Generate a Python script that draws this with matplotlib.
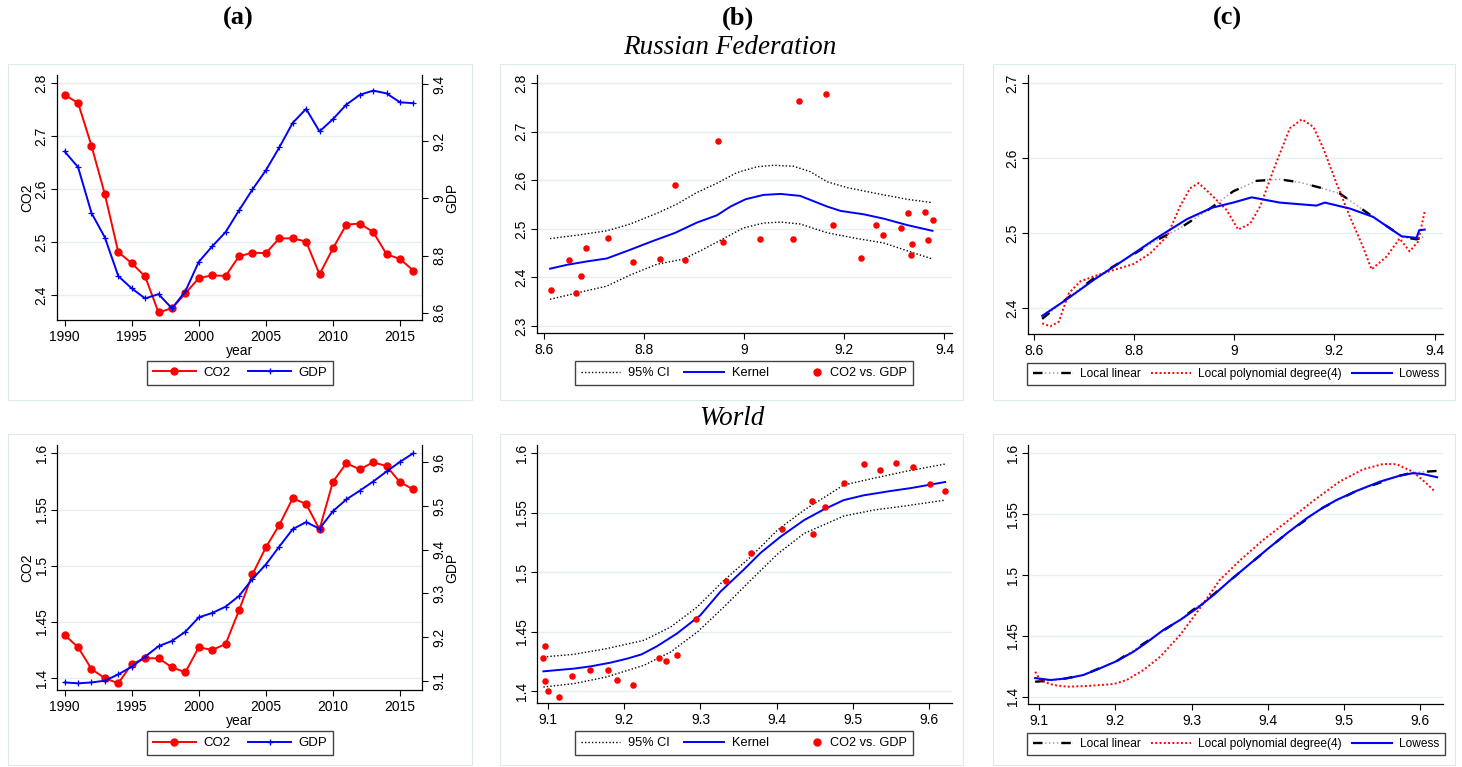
import matplotlib

matplotlib.use("Agg")
import matplotlib.pyplot as plt
from matplotlib.legend_handler import HandlerLine2D
from matplotlib.lines import Line2D
from matplotlib.patches import Rectangle
from matplotlib.ticker import FormatStrFormatter, MultipleLocator

# ---- data ----
years = list(range(1990, 2017))

rus_co2 = [2.778, 2.763, 2.682, 2.590, 2.481, 2.460, 2.435, 2.367, 2.375, 2.403,
           2.432, 2.437, 2.436, 2.473, 2.480, 2.479, 2.507, 2.507, 2.501, 2.439,
           2.488, 2.533, 2.535, 2.519, 2.477, 2.468, 2.446]
rus_gdp = [9.164, 9.109, 8.949, 8.863, 8.728, 8.685, 8.650, 8.665, 8.615, 8.675,
           8.778, 8.832, 8.882, 8.958, 9.031, 9.098, 9.178, 9.264, 9.313, 9.234,
           9.277, 9.328, 9.362, 9.377, 9.367, 9.336, 9.333]

wld_co2 = [1.4385, 1.4276, 1.4083, 1.400, 1.3956, 1.4127, 1.4178, 1.4178, 1.4098,
           1.4053, 1.4276, 1.4252, 1.4305, 1.4604, 1.4924, 1.5164, 1.5363, 1.560,
           1.555, 1.5324, 1.5748, 1.5911, 1.5858, 1.592, 1.5887, 1.5742, 1.568]
wld_gdp = [9.096, 9.094, 9.096, 9.100, 9.1145, 9.132, 9.155, 9.179, 9.191, 9.212,
           9.245, 9.255, 9.2695, 9.294, 9.333, 9.366, 9.407, 9.447, 9.463, 9.448,
           9.488, 9.515, 9.535, 9.556, 9.579, 9.601, 9.621]

# kernel fit + 95% CI, Russia
rus_kern_x = [8.613, 8.647, 8.687, 8.726, 8.773, 8.813, 8.863, 8.906, 8.946, 8.973,
              9.003, 9.039, 9.073, 9.112, 9.139, 9.166, 9.193, 9.239, 9.279, 9.325, 9.376]
rus_kern_y = [2.418, 2.426, 2.433, 2.439, 2.457, 2.473, 2.492, 2.513, 2.528, 2.546,
              2.561, 2.570, 2.572, 2.568, 2.557, 2.546, 2.537, 2.530, 2.521, 2.508, 2.496]
rus_ciu_x = [8.613, 8.667, 8.726, 8.773, 8.826, 8.866, 8.906, 8.946, 8.986, 9.026,
             9.059, 9.099, 9.132, 9.166, 9.206, 9.259, 9.325, 9.376]
rus_ciu_y = [2.480, 2.487, 2.496, 2.510, 2.532, 2.551, 2.575, 2.594, 2.616, 2.628,
             2.631, 2.629, 2.618, 2.597, 2.585, 2.574, 2.561, 2.554]
rus_cil_x = [8.613, 8.667, 8.726, 8.773, 8.826, 8.880, 8.919, 8.959, 8.999, 9.039,
             9.073, 9.112, 9.166, 9.226, 9.279, 9.325, 9.376]
rus_cil_y = [2.355, 2.368, 2.382, 2.405, 2.427, 2.438, 2.458, 2.480, 2.502, 2.512,
             2.514, 2.510, 2.492, 2.480, 2.471, 2.455, 2.438]

# kernel fit + 95% CI, World
wld_kern_x = [9.094, 9.134, 9.156, 9.182, 9.204, 9.223, 9.243, 9.269, 9.300, 9.326,
              9.357, 9.379, 9.405, 9.436, 9.462, 9.488, 9.514, 9.549, 9.576, 9.621]
wld_kern_y = [1.4168, 1.4191, 1.4210, 1.4241, 1.4275, 1.4311, 1.4379, 1.4485, 1.4640,
              1.4836, 1.5024, 1.5164, 1.5299, 1.5439, 1.5529, 1.5607, 1.5647, 1.5683,
              1.5708, 1.5759]
wld_ciu_x = [9.094, 9.134, 9.177, 9.226, 9.261, 9.296, 9.331, 9.366, 9.401, 9.436,
             9.467, 9.488, 9.527, 9.571, 9.621]
wld_ciu_y = [1.4289, 1.4311, 1.4359, 1.4429, 1.4541, 1.4710, 1.4934, 1.5130, 1.5355,
             1.5523, 1.5649, 1.5734, 1.5790, 1.5851, 1.5910]
wld_cil_x = [9.094, 9.134, 9.177, 9.226, 9.261, 9.296, 9.331, 9.366, 9.401, 9.436,
             9.488, 9.527, 9.571, 9.621]
wld_cil_y = [1.4036, 1.4065, 1.4121, 1.4219, 1.4331, 1.4499, 1.4710, 1.4934, 1.5153,
             1.5327, 1.5473, 1.5523, 1.5560, 1.5607]

# nonparametric fits, Russia
rus_ll_x = [8.617, 8.666, 8.720, 8.779, 8.846, 8.892, 8.952, 8.998, 9.045, 9.091,
            9.131, 9.171, 9.211, 9.277, 9.337, 9.364, 9.380]
rus_ll_y = [2.386, 2.413, 2.440, 2.464, 2.491, 2.507, 2.533, 2.556, 2.570, 2.572,
            2.568, 2.561, 2.553, 2.522, 2.495, 2.492, 2.496]
rus_lp_x = [8.617, 8.633, 8.650, 8.670, 8.693, 8.726, 8.759, 8.799, 8.832, 8.866,
            8.892, 8.912, 8.929, 8.952, 8.985, 9.008, 9.032, 9.052, 9.078, 9.111,
            9.135, 9.158, 9.178, 9.204, 9.231, 9.257, 9.274, 9.304, 9.330, 9.350,
            9.367, 9.380]
rus_lp_y = [2.380, 2.376, 2.382, 2.420, 2.436, 2.444, 2.451, 2.459, 2.473, 2.496,
            2.536, 2.560, 2.567, 2.553, 2.531, 2.505, 2.513, 2.536, 2.584, 2.640,
            2.652, 2.642, 2.613, 2.567, 2.522, 2.482, 2.452, 2.469, 2.493, 2.476,
            2.489, 2.529]
rus_lw_x = [8.617, 8.666, 8.720, 8.779, 8.846, 8.906, 8.955, 8.998, 9.035, 9.091,
            9.164, 9.181, 9.231, 9.277, 9.334, 9.364, 9.369, 9.380]
rus_lw_y = [2.390, 2.412, 2.438, 2.464, 2.494, 2.519, 2.534, 2.541, 2.548, 2.541,
            2.537, 2.541, 2.533, 2.522, 2.496, 2.494, 2.504, 2.505]

# nonparametric fits, World
wld_ll_x = [9.095, 9.124, 9.158, 9.202, 9.241, 9.285, 9.329, 9.372, 9.425, 9.473,
            9.516, 9.573, 9.590, 9.622]
wld_ll_y = [1.4123, 1.4137, 1.4178, 1.4293, 1.4452, 1.4633, 1.4841, 1.5068, 1.5342,
            1.5556, 1.5690, 1.5816, 1.5841, 1.5855]
wld_lp_x = [9.095, 9.102, 9.119, 9.137, 9.163, 9.198, 9.215, 9.237, 9.259, 9.285,
            9.311, 9.337, 9.364, 9.394, 9.425, 9.460, 9.494, 9.525, 9.551, 9.569,
            9.590, 9.608, 9.619]
wld_lp_y = [1.4205, 1.4132, 1.4096, 1.4082, 1.4088, 1.4104, 1.4137, 1.4219, 1.4329,
            1.4507, 1.4726, 1.4959, 1.5123, 1.5288, 1.5438, 1.5611, 1.5767, 1.5868,
            1.5912, 1.5910, 1.5849, 1.5753, 1.5685]
wld_lw_x = [9.095, 9.115, 9.137, 9.158, 9.180, 9.202, 9.224, 9.241, 9.263, 9.285,
            9.307, 9.329, 9.350, 9.372, 9.398, 9.425, 9.451, 9.473, 9.490, 9.516,
            9.547, 9.573, 9.590, 9.603, 9.622]
wld_lw_y = [1.4153, 1.4137, 1.4151, 1.4178, 1.4233, 1.4293, 1.4370, 1.4444, 1.4548,
            1.4630, 1.4726, 1.4836, 1.4953, 1.5068, 1.5205, 1.5342, 1.5466, 1.5556,
            1.5616, 1.5690, 1.5767, 1.5816, 1.5836, 1.5830, 1.5803]

W, H = 1462, 767
GRID = "#e6eef0"
FRAME = "#dfe8ec"
TICK_FS = 10
SERIF = ["Liberation Serif", "DejaVu Serif"]

plt.rcParams["font.family"] = ["Liberation Sans", "DejaVu Sans"]

fig = plt.figure(figsize=(W / 100, H / 100), dpi=100)


class _RightDot(HandlerLine2D):
    # one marker at the right end of the key, the way Stata draws it
    def create_artists(self, legend, orig_handle, xdescent, ydescent,
                       width, height, fontsize, trans):
        art = Line2D([width - xdescent - 4], [(height - ydescent) / 2])
        self.update_prop(art, orig_handle, legend)
        art.set_transform(trans)
        return [art]


def _rect(l, r, t, b):
    return [l / W, 1 - b / H, (r - l) / W, (b - t) / H]


def _style_axis(ax, *, right=False):
    for s in ("top", "right", "left", "bottom"):
        ax.spines[s].set_visible(False)
    side = "right" if right else "left"
    ax.spines[side].set_visible(True)
    ax.spines[side].set_linewidth(0.9)
    ax.tick_params(direction="out", length=4, width=0.8, labelsize=TICK_FS)
    if not right:
        ax.spines["bottom"].set_visible(True)
        ax.spines["bottom"].set_linewidth(0.9)
        ax.grid(True, axis="y", color=GRID, lw=1.0)
        ax.set_axisbelow(True)
        ax.tick_params(axis="y", pad=2)
    ax.yaxis.set_major_formatter(FormatStrFormatter("%g"))
    for lab in ax.get_yticklabels():
        lab.set_rotation(90)
        lab.set_va("center")


def _legend(handles, labels, cx, cy, fs, hl, cs, tp, hmap=None):
    fig.legend(handles, labels, loc="center", bbox_to_anchor=(cx / W, 1 - cy / H),
               bbox_transform=fig.transFigure, ncol=len(labels), fontsize=fs,
               frameon=True, fancybox=False, edgecolor="#444444", framealpha=1,
               handlelength=hl, columnspacing=cs, borderpad=0.45,
               handletextpad=tp, handler_map=hmap)


def time_panel(rect, co2, gdp, lylim, lstep, rylim, rstep, leg_y):
    ax = fig.add_axes(rect)
    ax2 = ax.twinx()
    ax.plot(years, co2, color="red", lw=1.4, marker="o", ms=5)
    ax2.plot(years, gdp, color="blue", lw=1.4, marker="+", ms=5, mew=0.9)
    ax.set_xlim(1989.43, 2016.64)
    ax.set_ylim(*lylim)
    ax2.set_ylim(*rylim)
    ax.xaxis.set_major_locator(MultipleLocator(5))
    ax.yaxis.set_major_locator(MultipleLocator(lstep))
    ax2.yaxis.set_major_locator(MultipleLocator(rstep))
    ax.set_xlabel("year", fontsize=TICK_FS, labelpad=0)
    ax.set_ylabel("CO2", fontsize=TICK_FS, labelpad=0)
    ax2.set_ylabel("GDP", fontsize=TICK_FS, rotation=90, labelpad=-1)
    _style_axis(ax)
    _style_axis(ax2, right=True)
    hs = [Line2D([], [], color="red", lw=1.4, marker="o", ms=5),
          Line2D([], [], color="blue", lw=1.4, marker="+", ms=5)]
    _legend(hs, ["CO2", "GDP"], 240, leg_y, 9.5, 3.25, 1.35, 0.55)


def kernel_panel(rect, gx, cy, kx, ky, ux, uy, lx, ly, xlim, ylim, xstep, ystep, leg_y):
    ax = fig.add_axes(rect)
    ax.plot(ux, uy, color="black", lw=1.0, ls=(0, (1, 1.5)))
    ax.plot(lx, ly, color="black", lw=1.0, ls=(0, (1, 1.5)))
    ax.plot(kx, ky, color="blue", lw=1.4)
    ax.scatter(gx, cy, s=22, color="red", zorder=3, lw=0)
    ax.set_xlim(*xlim)
    ax.set_ylim(*ylim)
    ax.xaxis.set_major_locator(MultipleLocator(xstep))
    ax.yaxis.set_major_locator(MultipleLocator(ystep))
    ax.xaxis.set_major_formatter(FormatStrFormatter("%g"))
    _style_axis(ax)
    dot = Line2D([], [], color="red", lw=0, marker="o", ms=5)
    hs = [Line2D([], [], color="black", lw=1.0, ls=(0, (1, 1.5))),
          Line2D([], [], color="blue", lw=1.4), dot]
    _legend(hs, ["95% CI", "Kernel", "CO2 vs. GDP"], 744, leg_y, 9.2, 3.1, 1.1, 0.62,
            hmap={dot: _RightDot()})


LL_DOTS = dict(color="#a0a0a0", lw=1.1, ls=(0, (1, 1.6)))
LL_DASH = dict(color="black", lw=1.7, ls=(0, (4, 8)))
LP_STYLE = dict(color="red", lw=1.4, ls=(0, (1, 1.2)))
LW_STYLE = dict(color="blue", lw=1.5)


def smooth_panel(rect, llx, lly, lpx, lpy, lwx, lwy, xlim, ylim, xstep, ystep, leg_y):
    ax = fig.add_axes(rect)
    ax.plot(llx, lly, **LL_DOTS)
    ax.plot(llx, lly, **LL_DASH)
    ax.plot(lpx, lpy, **LP_STYLE)
    ax.plot(lwx, lwy, **LW_STYLE)
    ax.set_xlim(*xlim)
    ax.set_ylim(*ylim)
    ax.xaxis.set_major_locator(MultipleLocator(xstep))
    ax.yaxis.set_major_locator(MultipleLocator(ystep))
    ax.xaxis.set_major_formatter(FormatStrFormatter("%g"))
    _style_axis(ax)
    hs = [(Line2D([], [], **LL_DOTS), Line2D([], [], **LL_DASH)),
          Line2D([], [], **LP_STYLE), Line2D([], [], **LW_STYLE)]
    _legend(hs, ["Local linear", "Local polynomial degree(4)", "Lowess"],
            1236, leg_y, 8.6, 3.35, 0.85, 0.6)


# light frames around every panel
for (x0, x1) in [(8, 472), (500, 963), (993, 1455)]:
    for (y0, y1) in [(64, 400), (434, 765)]:
        fig.add_artist(Rectangle((x0 / W, 1 - y1 / H), (x1 - x0) / W, (y1 - y0) / H,
                                 transform=fig.transFigure, fill=False,
                                 ec=FRAME, lw=0.8))

# row 1: Russian Federation
time_panel(_rect(57, 422, 75, 320), rus_co2, rus_gdp,
           (2.3527, 2.8157), 0.1, (8.5745, 9.4315), 0.2, 373)
kernel_panel(_rect(537, 952, 75, 333), rus_gdp, rus_co2,
             rus_kern_x, rus_kern_y, rus_ciu_x, rus_ciu_y, rus_cil_x, rus_cil_y,
             (8.587, 9.415), (2.2855, 2.817), 0.2, 0.1, 373)
smooth_panel(_rect(1028, 1443, 75, 334), rus_ll_x, rus_ll_y, rus_lp_x, rus_lp_y,
             rus_lw_x, rus_lw_y, (8.5887, 9.4166), (2.3658, 2.7111), 0.2, 0.1, 374)

# row 2: World
time_panel(_rect(57, 422, 445, 690), wld_co2, wld_gdp,
           (1.3896, 1.6074), 0.05, (9.0787, 9.6396), 0.1, 743)
kernel_panel(_rect(537, 952, 445, 703), wld_gdp, wld_co2,
             wld_kern_x, wld_kern_y, wld_ciu_x, wld_ciu_y, wld_cil_x, wld_cil_y,
             (9.0856, 9.630), (1.3902, 1.607), 0.1, 0.05, 743)
smooth_panel(_rect(1028, 1443, 445, 704), wld_ll_x, wld_ll_y, wld_lp_x, wld_lp_y,
             wld_lw_x, wld_lw_y, (9.0856, 9.6297), (1.394, 1.6068), 0.1, 0.05, 744)

# column letters and row titles
for lab, cx in [("(a)", 238), ("(b)", 738), ("(c)", 1227)]:
    fig.text(cx / W, 1 - 18 / H, lab, ha="center", va="center", fontsize=19,
             fontweight="bold", family=SERIF)
fig.text(730 / W, 1 - 48 / H, "Russian Federation", ha="center", va="center",
         fontsize=19.5, style="italic", family=SERIF)
fig.text(732 / W, 1 - 418 / H, "World", ha="center", va="center",
         fontsize=19.5, style="italic", family=SERIF)

fig.savefig("out.png", dpi=100)
